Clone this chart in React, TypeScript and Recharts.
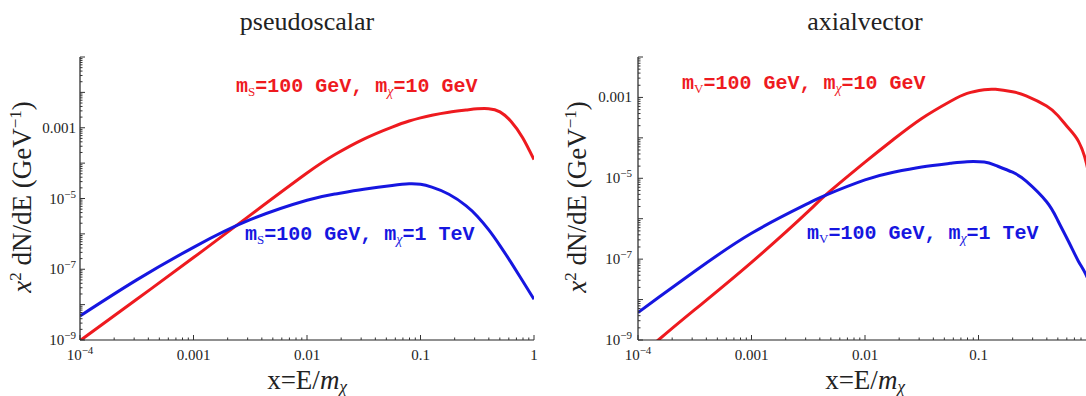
import React from "react";
import { LineChart, Line, XAxis, YAxis } from "recharts";

// ---- data (log10 values) ----
// pseudoscalar panel: x grid (log10 x) and log10(x^2 dN/dE)
const psXExp = [-4, -3.5, -3, -2.5, -2, -1.75, -1.5, -1.25, -1.1, -1, -0.9, -0.75, -0.6, -0.5, -0.4, -0.3, -0.2, -0.1, 0];
const psRedExp = [-9.02, -7.85, -6.67, -5.47, -4.28, -3.75, -3.32, -2.98, -2.81, -2.72, -2.645, -2.56, -2.5, -2.465, -2.46, -2.55, -2.83, -3.28, -3.9];
const psBlueExp = [-8.32, -7.3, -6.38, -5.6, -5.05, -4.87, -4.74, -4.63, -4.585, -4.6, -4.68, -4.88, -5.2, -5.5, -5.88, -6.33, -6.82, -7.33, -7.85];

// axialvector panel
const avXExp = [-4, -3.82, -3.5, -3, -2.5, -2.35, -2, -1.75, -1.5, -1.25, -1.1, -0.95, -0.85, -0.7, -0.58, -0.4, -0.3, -0.2, -0.12, -0.05, 0];
const avRedExp = [-9.45, -9.0, -8.25, -7.08, -5.82, -5.42, -4.6, -4.04, -3.52, -3.1, -2.9, -2.81, -2.8, -2.86, -2.96, -3.21, -3.45, -3.78, -4.08, -4.62, -5.4];
const avBlueExp = [-8.32, -7.95, -7.3, -6.36, -5.62, -5.42, -5.04, -4.85, -4.72, -4.63, -4.59, -4.6, -4.68, -4.85, -5.07, -5.58, -6.05, -6.6, -7.05, -7.4, -7.8];

// ---- axes ----
const xDomain = [1e-4, 1];
const psXTickValues = [1e-4, 1e-3, 1e-2, 1e-1, 1];
const psXTickLabels = ["10^−4", "0.001", "0.01", "0.1", "1"];
const avXTickValues = [1e-4, 1e-3, 1e-2, 1e-1];
const avXTickLabels = ["10^−4", "0.001", "0.01", "0.1"];
const psYDomain = [1e-9, 1e-1];
const avYDomain = [1e-9, 1e-2];
const yTickValues = [1e-9, 1e-7, 1e-5, 1e-3];
const yTickLabels = ["10^−9", "10^−7", "10^−5", "0.001"];

const titles = ["pseudoscalar", "axialvector"];
const mediatorSubs = ["S", "V"];
const redMass = "=10 GeV";
const blueMass = "=1 TeV";

const RED = "#ee1a1f";
const BLUE = "#1616e0";
const SERIF = "'Liberation Serif', 'Times New Roman', serif";
const MONO = "'Liberation Mono', 'Courier New', monospace";
const TICK_FS = 15;

function logTicks(lo: number, hi: number) {
  const out: number[] = [];
  const a = Math.round(Math.log10(lo));
  const b = Math.round(Math.log10(hi));
  for (let d = a; d < b; d++) for (let k = 1; k <= 9; k++) out.push(k * Math.pow(10, d));
  out.push(Math.pow(10, b));
  return out;
}
const isDecade = (v: number) => Math.abs(Math.log10(v) - Math.round(Math.log10(v))) < 1e-6;
function findLabel(v: number, vals: number[], labels: string[]) {
  const i = vals.findIndex((t) => Math.abs(Math.log10(t) - Math.log10(v)) < 1e-6);
  return i >= 0 ? labels[i] : null;
}
function renderPow(label: string) {
  const [base, exp] = label.split("^");
  if (!exp) return label;
  return (
    <>
      <tspan>{base}</tspan>
      <tspan dy={-6} style={{ fontSize: 11 }}>{exp}</tspan>
    </>
  );
}
const tickTextStyle = { fontFamily: SERIF, fontSize: TICK_FS, fill: "#222" };

const makeBottomTick = (vals: number[], labels: string[]) => (props: any) => {
  const { x, y, payload } = props;
  const v = payload.value;
  const major = isDecade(v);
  const lab = findLabel(v, vals, labels);
  return (
    <g>
      <line x1={x} y1={y} x2={x} y2={y - (major ? 5 : 2.5)} stroke="#333" strokeWidth={1} />
      {lab && (
        <text x={x} y={y + 20} textAnchor="middle" style={tickTextStyle}>
          {renderPow(lab)}
        </text>
      )}
    </g>
  );
};
const TopTick = (props: any) => {
  const { x, y, payload } = props;
  const major = isDecade(payload.value);
  return <line x1={x} y1={y} x2={x} y2={y + (major ? 5 : 2.5)} stroke="#888" strokeWidth={1} />;
};
const makeLeftTick = (gap: number) => (props: any) => {
  const { x, y, payload } = props;
  const v = payload.value;
  const major = isDecade(v);
  const lab = findLabel(v, yTickValues, yTickLabels);
  return (
    <g>
      <line x1={x} y1={y} x2={x + (major ? 5 : 2.5)} y2={y} stroke="#333" strokeWidth={1} />
      {lab && (
        <text x={x - gap} y={y + 5} textAnchor="end" style={tickTextStyle}>
          {renderPow(lab)}
        </text>
      )}
    </g>
  );
};
const RightTick = (props: any) => {
  const { x, y, payload } = props;
  const major = isDecade(payload.value);
  return <line x1={x} y1={y} x2={x - (major ? 5 : 2.5)} y2={y} stroke="#555" strokeWidth={1} />;
};

function Annot({ x, y, color, sub, mass }: any) {
  return (
    <text x={x} y={y} fill={color} fontFamily={MONO} fontWeight="bold" fontSize={20}>
      m
      <tspan dy={4} fontSize={13} fontFamily={SERIF} fontWeight="normal">{sub}</tspan>
      <tspan dy={-4}>=100 GeV, m</tspan>
      <tspan dy={4} fontSize={14} fontFamily={SERIF} fontStyle="italic" fontWeight="normal">χ</tspan>
      <tspan dy={-4}>{mass}</tspan>
    </text>
  );
}

function YTitle({ cx, cy }: any) {
  return (
    <text x={cx} y={cy} transform={`rotate(-90 ${cx} ${cy})`} textAnchor="middle" fontFamily={SERIF} fontSize={27} fill="#222">
      <tspan fontStyle="italic">x</tspan>
      <tspan dy={-10} fontSize={17}>2</tspan>
      <tspan dy={10}> dN/dE (GeV</tspan>
      <tspan dy={-10} fontSize={17}>−1</tspan>
      <tspan dy={10}>)</tspan>
    </text>
  );
}
function XTitle({ cx, y }: any) {
  return (
    <text x={cx} y={y} textAnchor="middle" fontFamily={SERIF} fontSize={27} fill="#222">
      x=E/<tspan fontStyle="italic">m</tspan>
      <tspan dy={3} fontSize={17} fontStyle="italic">χ</tspan>
    </text>
  );
}

function Panel(props: any) {
  const { width, left, yDomain, xExp, redExp, blueExp, title, sub, plotLeft, plotRight, annots, yTitleX, gap, xVals, xLabels } = props;
  const data = xExp.map((e: number, i: number) => ({
    x: Math.pow(10, e),
    red: Math.pow(10, redExp[i]),
    blue: Math.pow(10, blueExp[i]),
  }));
  const xt = logTicks(xDomain[0], xDomain[1]);
  const yt = logTicks(yDomain[0], yDomain[1]);
  const cx = (plotLeft + plotRight) / 2;
  const BottomTick = makeBottomTick(xVals, xLabels);
  return (
    <div style={{ position: "absolute", left, top: 0 }}>
      <LineChart width={width} height={396} data={data} margin={{ top: 57, right: width - plotRight, bottom: 0, left: 0 }}>
        <XAxis
          dataKey="x"
          type="number"
          scale="log"
          domain={xDomain}
          allowDataOverflow
          ticks={xt}
          interval={0}
          height={56}
          tickSize={0}
          tickMargin={0}
          tickLine={false}
          axisLine={{ stroke: "#222", strokeWidth: 1.2 }}
          tick={BottomTick}
        />
        <XAxis
          xAxisId="top"
          orientation="top"
          dataKey="x"
          type="number"
          scale="log"
          domain={xDomain}
          allowDataOverflow
          ticks={xt}
          interval={0}
          height={0}
          tickSize={0}
          tickMargin={0}
          tickLine={false}
          axisLine={{ stroke: "#555", strokeWidth: 1 }}
          tick={<TopTick />}
        />
        <YAxis
          type="number"
          scale="log"
          domain={yDomain}
          allowDataOverflow
          ticks={yt}
          interval={0}
          width={plotLeft}
          tickSize={0}
          tickMargin={0}
          tickLine={false}
          axisLine={{ stroke: "#222", strokeWidth: 1.2 }}
          tick={makeLeftTick(gap)}
        />
        <YAxis
          yAxisId="right"
          orientation="right"
          type="number"
          scale="log"
          domain={yDomain}
          allowDataOverflow
          ticks={yt}
          interval={0}
          width={0}
          tickSize={0}
          tickMargin={0}
          tickLine={false}
          axisLine={{ stroke: "#333", strokeWidth: 1.2 }}
          tick={<RightTick />}
        />
        <Line dataKey="red" type="natural" stroke={RED} strokeWidth={3} dot={false} isAnimationActive={false} />
        <Line dataKey="blue" type="natural" stroke={BLUE} strokeWidth={3} dot={false} isAnimationActive={false} />
        <text x={cx} y={30} textAnchor="middle" fontFamily={SERIF} fontSize={26} fill="#222">
          {title}
        </text>
        <Annot x={annots[0]} y={annots[1]} color={RED} sub={sub} mass={redMass} />
        <Annot x={annots[2]} y={annots[3]} color={BLUE} sub={sub} mass={blueMass} />
        <YTitle cx={yTitleX} cy={197} />
        <XTitle cx={cx} y={389} />
      </LineChart>
    </div>
  );
}

export default function App() {
  return (
    <div style={{ position: "absolute", left: 0, top: 0, width: 1086, height: 396, overflow: "hidden", background: "#fff" }}>
      <Panel
        width={545}
        left={0}
        yDomain={psYDomain}
        xExp={psXExp}
        redExp={psRedExp}
        blueExp={psBlueExp}
        title={titles[0]}
        sub={mediatorSubs[0]}
        plotLeft={80}
        plotRight={534}
        annots={[236, 92, 245, 240]}
        yTitleX={31}
        gap={4}
        xVals={psXTickValues}
        xLabels={psXTickLabels}
      />
      <Panel
        width={560}
        left={545}
        yDomain={avYDomain}
        xExp={avXExp}
        redExp={avRedExp}
        blueExp={avBlueExp}
        title={titles[1]}
        sub={mediatorSubs[1]}
        plotLeft={93}
        plotRight={547}
        annots={[137, 89, 262, 239]}
        yTitleX={41}
        gap={6}
        xVals={avXTickValues}
        xLabels={avXTickLabels}
      />
    </div>
  );
}
